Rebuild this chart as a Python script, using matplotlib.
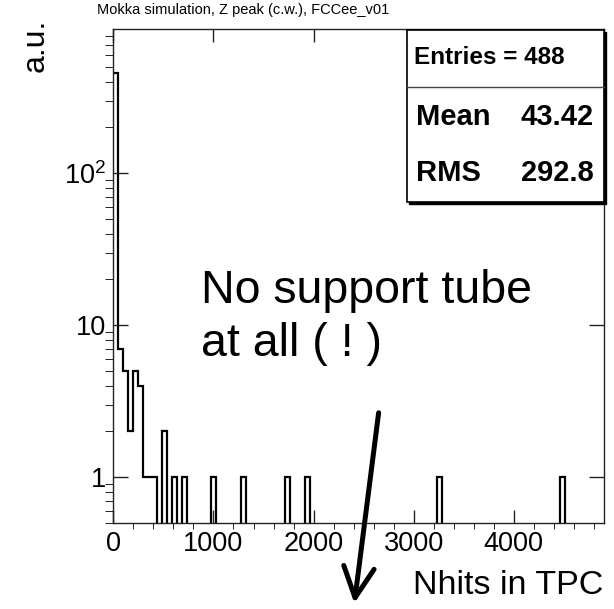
"""
plot.py
~~~~~~~

Nhits in TPC for the Z peak sample, drawn in ROOT style.
"""
import matplotlib
matplotlib.use('Agg')

import matplotlib.pyplot as plt
import numpy as np
from matplotlib.patches import FancyArrowPatch, Rectangle
from matplotlib.ticker import FixedLocator, MultipleLocator

plt.rcParams['font.family'] = ['Liberation Sans', 'DejaVu Sans']
plt.rcParams['mathtext.fontset'] = 'custom'
plt.rcParams['mathtext.rm'] = 'Liberation Sans'

# 100 bins of width 49 between 0 and 4900, only filled bins listed
n_bins = 100
x_max = 4900
filled_bins = [0, 1, 2, 3, 4, 5, 6, 7, 8, 10, 12, 14, 20, 26, 35, 39, 66, 91]
filled_counts = [452, 7, 5, 2, 5, 4, 1, 1, 1, 2, 1, 1, 1, 1, 1, 1, 1, 1]

y_ticks = [1, 10, 100]
y_tick_labels = ['1', '10', r'$\mathregular{10^2}$']
x_ticks = [0, 1000, 2000, 3000, 4000]

title = 'Mokka simulation, Z peak (c.w.), FCCee_v01'
stats_lines = [('Mean', '43.42'), ('RMS', '292.8')]
entries = 488

W, H = 614, 609


def fx(px):
    return px / W


def fy(py):
    return 1 - py / H


edges = np.linspace(0, x_max, n_bins + 1)
counts = np.zeros(n_bins)
counts[filled_bins] = filled_counts

fig = plt.figure(figsize=(W / 100, H / 100), dpi=100)
ax = fig.add_axes([fx(113.3), fy(523), fx(604) - fx(113.3), fy(29) - fy(523)])

# empty bins are pushed below the axis so the steps drop to the bottom
ax.stairs(np.where(counts > 0, counts, 1e-3), edges, baseline=None,
          color='black', linewidth=1.6)

ax.set_yscale('log')
ax.set_xlim(0, x_max)
ax.set_ylim(0.5, 886)

ax.set_xticks(x_ticks)
ax.xaxis.set_minor_locator(MultipleLocator(200))
ax.set_yticks(y_ticks)
ax.set_yticklabels(y_tick_labels)
ax.yaxis.set_minor_locator(FixedLocator(
    [m * 10 ** e for e in range(-1, 3) for m in range(2, 10)]))

ax.tick_params(direction='in', top=True, right=True, labelsize=19.5,
               width=1.0, color='#222222')
ax.tick_params(axis='x', which='major', length=9.5, pad=6)
ax.tick_params(axis='x', which='minor', length=4.5)
ax.tick_params(axis='y', which='major', length=11, pad=5)
ax.tick_params(axis='y', which='minor', length=6)
for spine in ax.spines.values():
    spine.set_linewidth(1.0)
    spine.set_color('#222222')

fig.text(fx(97), fy(10), title, fontsize=10.5, ha='left', va='center')
fig.text(fx(36), fy(45), 'a.u.', fontsize=23, rotation=90,
         ha='center', va='center')
fig.text(fx(603), fy(585), 'Nhits in TPC', fontsize=24.5,
         ha='right', va='center')

# stats box with a small shadow
box_l, box_r, box_t, box_b = 407, 604, 30, 202
fig.add_artist(Rectangle((fx(box_l + 2), fy(box_b + 2)),
                         fx(box_r + 2) - fx(box_l + 2),
                         fy(box_t + 2) - fy(box_b + 2),
                         facecolor='black', edgecolor='black', lw=1,
                         transform=fig.transFigure, zorder=5))
fig.add_artist(Rectangle((fx(box_l), fy(box_b)), fx(box_r) - fx(box_l),
                         fy(box_t) - fy(box_b), facecolor='white',
                         edgecolor='black', lw=1.2,
                         transform=fig.transFigure, zorder=6))
fig.add_artist(plt.Line2D([fx(box_l), fx(box_r)], [fy(87), fy(87)],
                          color='#444444', lw=1.0,
                          transform=fig.transFigure, zorder=7))
fig.text(fx(414), fy(58), 'Entries = {}'.format(entries), fontsize=17.5,
         fontweight='bold', ha='left', va='center', zorder=8)
for (name, value), y in zip(stats_lines, [117, 173]):
    fig.text(fx(416), fy(y), name, fontsize=21, fontweight='bold',
             ha='left', va='center', zorder=8)
    fig.text(fx(594), fy(y), value, fontsize=21, fontweight='bold',
             ha='right', va='center', zorder=8)

# annotation
fig.text(fx(201), fy(303), 'No support tube', fontsize=33.5,
         ha='left', va='baseline')
fig.text(fx(201), fy(356), 'at all ( ! )', fontsize=33.5,
         ha='left', va='baseline')
fig.add_artist(FancyArrowPatch((fx(379), fy(410)), (fx(354), fy(606)),
                               arrowstyle='->,head_length=1.0,head_width=0.5',
                               mutation_scale=22, lw=3.6, color='black',
                               transform=fig.transFigure, zorder=9))

fig.savefig('out.png', dpi=100)
